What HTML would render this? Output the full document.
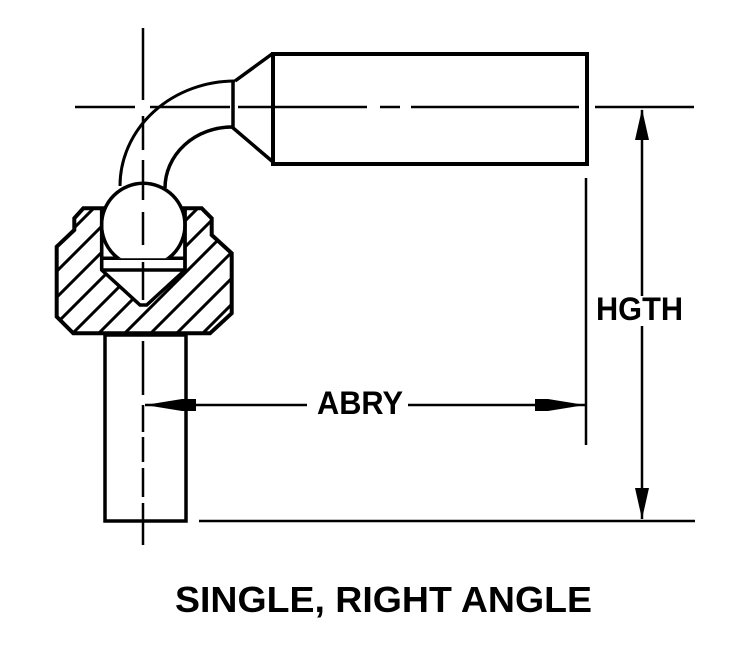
<!DOCTYPE html>
<html><head><style>body{margin:0;background:#fff}svg{display:block}</style></head><body>
<svg width="750" height="660" viewBox="0 0 750 660" xmlns="http://www.w3.org/2000/svg">
<defs>
<clipPath id="body"><polygon points="56.7,246.7 74.3,230 74.3,218.3 83.3,208.3 201.7,208.3 211.7,218.3 211.7,235 231.7,253.3 231.7,313.3 210,333.3 73.3,333.3 56.7,316.7"/></clipPath>
<clipPath id="ballc"><rect x="0" y="0" width="400" height="258.3"/></clipPath>
</defs>
<g stroke="#000" fill="none" stroke-linecap="butt">
<g clip-path="url(#body)" stroke-width="3">
<path d="M20,360 L200,180 M46,360 L226,180 M72,360 L252,180 M98,360 L278,180 M124,360 L304,180 M150,360 L330,180 M176,360 L356,180 M202,360 L382,180 M-6,360 L174,180 M-32,360 L148,180 M-58,360 L122,180 M-84,360 L96,180"/>
</g>
<polygon points="101.7,205 185,205 185,270 146.7,305 140,305 101.7,270" fill="#fff" stroke="none"/>
<polygon points="56.7,246.7 74.3,230 74.3,218.3 83.3,208.3 201.7,208.3 211.7,218.3 211.7,235 231.7,253.3 231.7,313.3 210,333.3 73.3,333.3 56.7,316.7" stroke-width="4"/>
<path d="M101.7,208.3 L101.7,270 L140,305 L146.7,305 L185,270 L185,208.3 M101.7,258.3 L185,258.3 M101.7,270 L185,270" stroke-width="3.5"/>
<circle cx="143.3" cy="225" r="41.7" fill="#fff" stroke-width="3.5" clip-path="url(#ballc)"/>
<path d="M101.7,208.3 L101.7,270 M185,208.3 L185,270" stroke-width="3.5"/>
<path d="M120,186 A115,105 0 0 1 235,81" stroke-width="3"/>
<path d="M165,188 A67,61 0 0 1 232,127" stroke-width="3.5"/>
<path d="M235,81 L272,54 M232,127 L273,162 M233,81 L233,127" stroke-width="3.5"/>
<rect x="273" y="54" width="314" height="110" stroke-width="4"/>
<rect x="105" y="335" width="81" height="186" stroke-width="3.5"/>
</g>
<g stroke="#000" stroke-width="2.5" fill="none">
<path d="M143,28 V100 M143,116 V150 M143,160 V182"/>
<path d="M143,185 V200 M143,212 V245 M143,262 V300"/>
<path d="M143,341 V395 M143,405 V432 M143,437 V462 M143,468 V497 M143,503 V545"/>
<path d="M75,107 H135 M150,107 H230 M238,107 H367 M380,107 H400 M411,107 H579 M595,107 H694"/>
<path d="M586,178 V445 M199,521 H695"/>
<path d="M642,110 V296 M642,326 V519"/>
<path d="M145,405 H307 M408,405 H585"/>
</g>
<g fill="#000">
<polygon points="642,109 635,140 649,140"/>
<polygon points="642,519 635,488 649,488"/>
<polygon points="145,405 182,399 196,399 196,411 182,411"/>
<polygon points="585,405 548,399 535,399 535,411 548,411"/>
</g>
<g font-family="Liberation Sans, sans-serif" font-weight="bold" fill="#000">
<text x="317" y="414" font-size="32" textLength="86" lengthAdjust="spacingAndGlyphs">ABRY</text>
<text x="596" y="320" font-size="32" textLength="87" lengthAdjust="spacingAndGlyphs">HGTH</text>
<text x="175" y="612" font-size="36" textLength="417" lengthAdjust="spacingAndGlyphs">SINGLE, RIGHT ANGLE</text>
</g>
</svg>
</body></html>
